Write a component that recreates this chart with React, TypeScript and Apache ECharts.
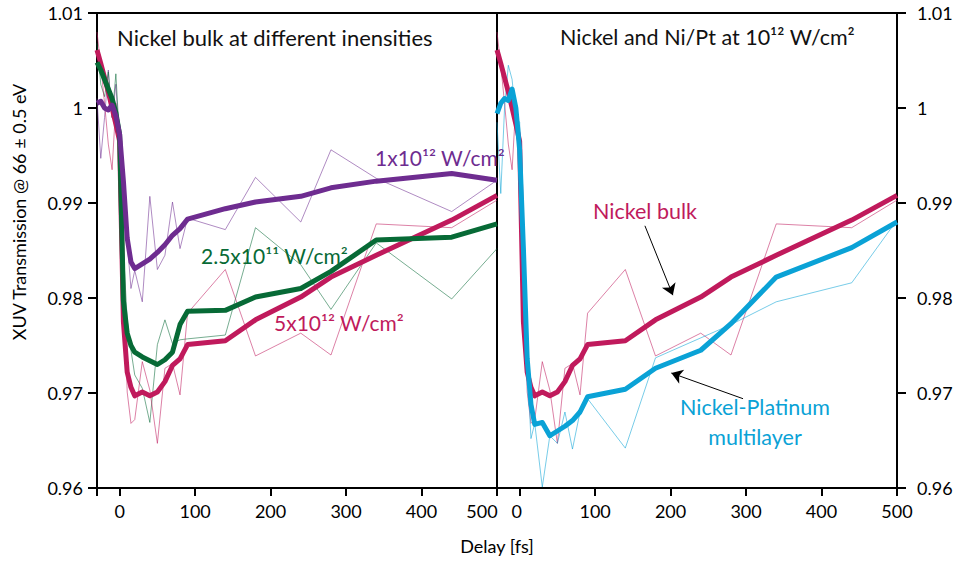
import React, { useEffect, useRef } from "react";
import * as echarts from "echarts";

// Delay values [fs]
const timeFs = [-30, -25, -20, -15, -10, -5, 0, 5, 10, 15, 20, 30, 40, 50, 60, 70, 80, 90, 140, 180, 240, 280, 340, 440, 500];

// Left panel: Nickel bulk at different intensities
const ni1e12Raw = [1.0010, 0.9947, 0.9990, 1.0040, 0.9990, 1.0025, 0.9960, 0.9905, 0.9860, 0.9810, 0.9829, 0.9796, 0.9907, 0.9830, 0.9845, 0.9901, 0.9852, 0.9884, 0.9872, 0.9927, 0.9880, 0.9956, 0.9926, 0.9891, 0.9924];
const ni1e12Smooth = [1.0005, 1.0007, 1.0000, 0.9998, 1.0003, 0.9992, 0.9972, 0.9923, 0.9863, 0.9838, 0.9831, 0.9836, 0.9841, 0.9848, 0.9856, 0.9866, 0.9873, 0.9883, 0.9894, 0.9901, 0.9907, 0.9916, 0.9923, 0.9931, 0.9924];
const ni25e11Raw = [1.0068, 1.0025, 1.0012, 1.0038, 0.9990, 1.0036, 0.9965, 0.9850, 0.9777, 0.9745, 0.9719, 0.9705, 0.9669, 0.9751, 0.9777, 0.9752, 0.9756, 0.9757, 0.9761, 0.9874, 0.9835, 0.9788, 0.9858, 0.9799, 0.9852];
const ni25e11Smooth = [1.0048, 1.0040, 1.0030, 1.0020, 1.0010, 0.9995, 0.9972, 0.9797, 0.9763, 0.9750, 0.9743, 0.9738, 0.9734, 0.9730, 0.9735, 0.9743, 0.9772, 0.9786, 0.9787, 0.9801, 0.9810, 0.9828, 0.9861, 0.9864, 0.9878];
const ni5e12Raw = [1.0080, 1.0045, 1.0005, 0.9962, 0.9935, 1.0005, 0.9960, 0.9820, 0.9701, 0.9668, 0.9672, 0.9733, 0.9703, 0.9647, 0.9726, 0.9731, 0.9698, 0.9784, 0.9830, 0.9739, 0.9763, 0.9740, 0.9878, 0.9874, 0.9903];
const ni5e12Smooth = [1.0061, 1.0047, 1.0032, 1.0017, 1.0000, 0.9983, 0.9965, 0.9775, 0.9722, 0.9706, 0.9697, 0.9701, 0.9697, 0.9701, 0.9712, 0.9729, 0.9736, 0.9751, 0.9755, 0.9777, 0.9801, 0.9822, 0.9845, 0.9882, 0.9908];

// Right panel: Nickel-Platinum multilayer
const niPtRaw = [0.9985, 0.9910, 1.0000, 1.0045, 1.0030, 0.9990, 0.9985, 0.9870, 0.9730, 0.9652, 0.9668, 0.9601, 0.9655, 0.9647, 0.9680, 0.9641, 0.9680, 0.9694, 0.9642, 0.9737, 0.9758, 0.9772, 0.9796, 0.9816, 0.9882];
const niPtSmooth = [0.9994, 1.0005, 1.0010, 1.0008, 1.0020, 1.0000, 0.9956, 0.9852, 0.9736, 0.9688, 0.9667, 0.9669, 0.9655, 0.9660, 0.9665, 0.9671, 0.9680, 0.9696, 0.9704, 0.9726, 0.9745, 0.9773, 0.9822, 0.9853, 0.9880];

const xTickLabels = [0, 100, 200, 300, 400, 500];
const xTickMarks = [-30, 0, 100, 200, 300, 400, 500];

const FONT = "Lato";
const PURPLE = "#6E2C90";
const GREEN = "#076A36";
const CRIMSON = "#C01A5C";
const BLUE = "#0AA2D6";

const pairs = (vals: number[]) => timeFs.map((t, i) => [t, vals[i]]);

function xAxisFor(gridIndex: number) {
  const labelStyle = { fontSize: 18, color: "#000", fontFamily: FONT };
  return {
    type: "value",
    gridIndex,
    min: -30,
    max: 500,
    axisLine: { show: true, onZero: false, lineStyle: { color: "#000", width: 2 } },
    axisTick: { show: true, inside: false, length: 8, lineStyle: { color: "#000", width: 2 }, customValues: xTickMarks },
    axisLabel: {
      show: true,
      customValues: xTickLabels,
      ...labelStyle,
      margin: 14,
      formatter: (v: number) => (gridIndex === 0 && v === 500 ? "{s|500}" : gridIndex === 1 && v === 0 ? "{z|0}" : String(v)),
      rich: {
        s: { ...labelStyle, padding: [0, 30, 0, 0] },
        z: { ...labelStyle, padding: [0, 6, 0, 0] },
      },
    },
    splitLine: { show: false },
  };
}

function yAxisFor(gridIndex: number, position: string) {
  return {
    type: "value",
    gridIndex,
    position,
    min: 0.96,
    max: 1.01,
    interval: 0.01,
    axisLine: { show: true, onZero: false, lineStyle: { color: "#000", width: 2 } },
    axisTick: { show: true, inside: false, length: 9, lineStyle: { color: "#000", width: 2 } },
    axisLabel: {
      fontSize: 18,
      color: "#000",
      fontFamily: FONT,
      margin: position === "left" ? 14 : 20,
      formatter: (v: number) => String(parseFloat(v.toFixed(2))),
    },
    splitLine: { show: false },
  };
}

function line(name: string, vals: number[], color: string, thick: boolean, axis: number, z: number, extra: any = {}) {
  return {
    name,
    type: "line",
    xAxisIndex: axis,
    yAxisIndex: axis,
    data: pairs(vals),
    showSymbol: false,
    symbol: "none",
    z,
    lineStyle: thick ? { color, width: 5, join: "round" } : { color, width: 1, opacity: 0.55 },
    itemStyle: { color },
    silent: true,
    ...extra,
  };
}

export default function App() {
  const ref = useRef<HTMLDivElement>(null);
  useEffect(() => {
    if (!ref.current) return;
    const chart = echarts.init(ref.current, undefined, { renderer: "svg" });
    const txt = (text: string, x: number, y: number, color: string, size: number, align = "left") => ({
      type: "text",
      x,
      y,
      z: 100,
      style: { text, fill: color, fontSize: size, fontFamily: FONT, align, verticalAlign: "middle" },
    });
    chart.setOption({
      animation: false,
      backgroundColor: "#fff",
      grid: [
        { left: 97, top: 13, width: 400, height: 475, show: true, borderColor: "#000", borderWidth: 2, backgroundColor: "transparent" },
        { left: 497, top: 13, width: 400, height: 475, show: true, borderColor: "#000", borderWidth: 2, backgroundColor: "transparent" },
      ],
      xAxis: [xAxisFor(0), xAxisFor(1)],
      yAxis: [yAxisFor(0, "left"), yAxisFor(1, "right")],
      series: [
        line("1x10^12 raw", ni1e12Raw, PURPLE, false, 0, 2),
        line("2.5x10^11 raw", ni25e11Raw, GREEN, false, 0, 2),
        line("5x10^12 raw", ni5e12Raw, CRIMSON, false, 0, 2),
        line("5x10^12", ni5e12Smooth, CRIMSON, true, 0, 3),
        line("2.5x10^11", ni25e11Smooth, GREEN, true, 0, 4),
        line("1x10^12", ni1e12Smooth, PURPLE, true, 0, 5),
        line("Nickel bulk raw", ni5e12Raw, CRIMSON, false, 1, 2),
        line("Ni/Pt raw", niPtRaw, BLUE, false, 1, 2),
        line("Nickel bulk", ni5e12Smooth, CRIMSON, true, 1, 3),
        line("Nickel-Platinum multilayer", niPtSmooth, BLUE, true, 1, 4, {
          markLine: {
            silent: true,
            symbol: ["none", "arrow"],
            symbolSize: 11,
            label: { show: false },
            lineStyle: { color: "#000", width: 1, type: "solid" },
            data: [
              [{ coord: [166, 0.9876] }, { coord: [203, 0.9803] }],
              [{ coord: [296, 0.9694] }, { coord: [201, 0.9721] }],
            ],
          },
        }),
      ],
      graphic: [
        txt("Nickel bulk at different inensities", 117, 37, "#111", 22),
        txt("Nickel and Ni/Pt at 10¹² W/cm²", 560, 37, "#111", 21.5),
        txt("1x10¹² W/cm²", 375, 157, PURPLE, 21),
        txt("2.5x10¹¹ W/cm²", 201, 255, GREEN, 21),
        txt("5x10¹² W/cm²", 274, 322, CRIMSON, 21),
        txt("Nickel bulk", 593, 211, CRIMSON, 21.5),
        txt("Nickel-Platinum", 755, 407, BLUE, 21.5, "center"),
        txt("multilayer", 755, 437, BLUE, 21.5, "center"),
        txt("Delay [fs]", 497, 546, "#000", 18, "center"),
        {
          type: "text",
          x: 19,
          y: 212,
          rotation: Math.PI / 2,
          style: { text: "XUV Transmission @ 66 ± 0.5 eV", fill: "#000", fontSize: 18, fontFamily: FONT, align: "center", verticalAlign: "middle" },
        },
      ],
    });
    return () => chart.dispose();
  }, []);
  return <div ref={ref} style={{ position: "fixed", left: 0, top: 0, width: 958, height: 561 }} />;
}
